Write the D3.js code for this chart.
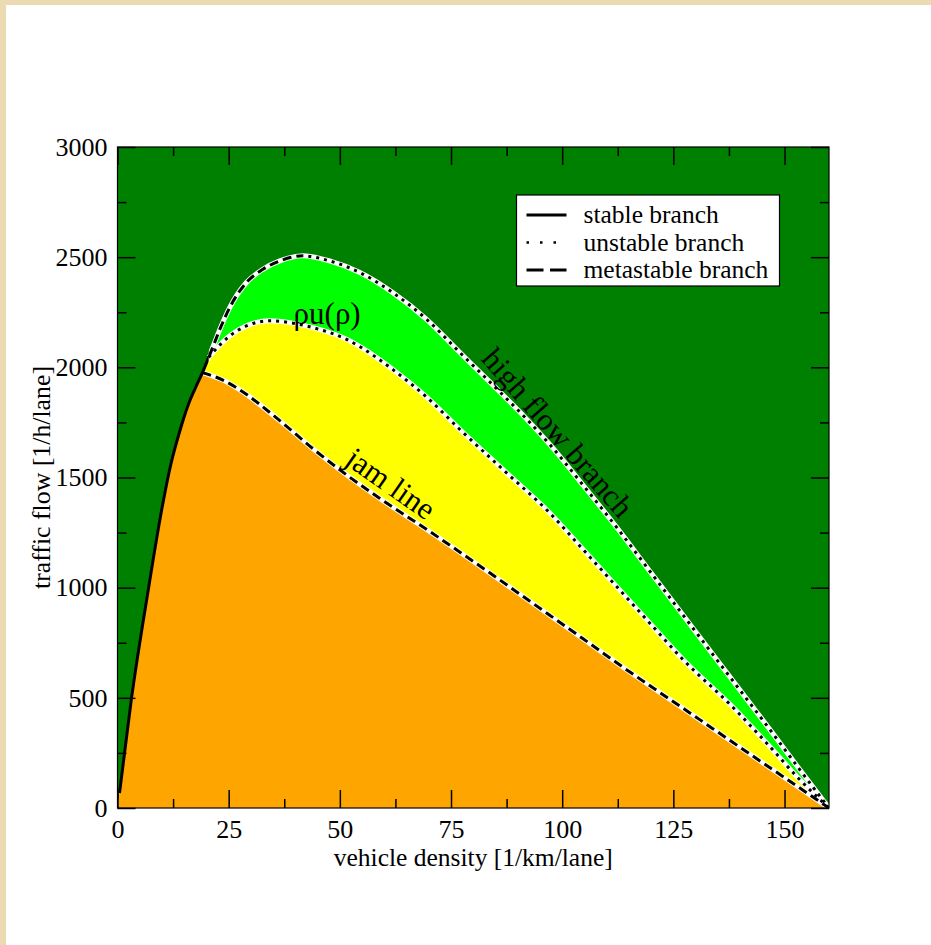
<!DOCTYPE html>
<html>
<head>
<meta charset="utf-8">
<script src="https://cdn.jsdelivr.net/npm/d3@7"></script>
<style>
  html, body { margin: 0; padding: 0; background: #ecdab3; }
  svg { display: block; }
  text { font-family: "Liberation Serif", "Times New Roman", serif; fill: #000; }
</style>
</head>
<body>
<svg id="chart" width="931" height="945"></svg>
<script>
// ---------------- data (density [1/km/lane], flow [1/h/lane]) ----------------
const stableBranch = [[0.45,68],[3.1,491],[7.0,1000],[10.0,1360],[12.0,1560],[14.0,1710],[16.0,1835],[17.5,1905],[19.1,1976],[20.5,2045]];
const metastableBranch = [[20.5,2045],[21.4,2090],[23.0,2172],[25.2,2270],[29.0,2385],[32.7,2445],[36.5,2483],[41.7,2506]];
const highFlowBranch = [[41.7,2506],[47.7,2483],[54.5,2430],[61.9,2339],[69.5,2218],[77.0,2067],[84.5,1918],[92.0,1765],[97.2,1650],[104.7,1465],[112.2,1275],[119.7,1075],[127.2,875],[134.7,675],[142.2,476],[146.0,375],[149.7,275],[153.5,172],[160,0]];
const rhoU = [[20.5,2045],[21.4,2066],[25.2,2142],[29.0,2188],[34.2,2211],[38.7,2203],[44.0,2180],[51.5,2127],[58.2,2045],[61.9,1990],[69.5,1865],[77.0,1718],[87.0,1530],[97.2,1339],[104.7,1173],[112.2,1006],[119.7,839],[127.2,673],[138.0,465],[146.0,294],[153.5,127],[160,0]];
const jamLine = [[19.1,1976],[23.7,1942],[27.1,1903],[36.5,1758],[44.0,1630],[51.5,1512],[59.0,1405],[70.2,1255],[97.2,875],[104.7,768],[112.2,660],[131.0,400],[138.5,296],[149.7,142],[160,0]];

const xMajorTicks = [0,25,50,75,100,125,150];
const xMinorTicks = [12.5,37.5,62.5,87.5,112.5,137.5];
const yMajorTicks = [0,500,1000,1500,2000,2500,3000];
const yMinorTicks = [250,750,1250,1750,2250,2750];

const legendLabels = ["stable branch","unstable branch","metastable branch"];
const annotations = [
  {text:"ρu(ρ)", at:[39.6,2195], angle:0},
  {text:"jam line", at:[50.8,1565], angle:35},
  {text:"high flow branch", at:[81.6,2035], angle:49}
];
const xTitle = "vehicle density [1/km/lane]";
const yTitle = "traffic flow [1/h/lane]";

// ---------------- layout ----------------
const W = 931, H = 945;
const plot = {left:117.5, right:829, top:147, bottom:808};
const svg = d3.select("#chart");

const x = d3.scaleLinear().domain([0,160]).range([plot.left, plot.right]);
const y = d3.scaleLinear().domain([0,3000]).range([plot.bottom, plot.top]);

// page: parchment border + white sheet
svg.append("rect").attr("width",W).attr("height",H).attr("fill","#ecdab3");
svg.append("rect").attr("x",6).attr("y",5).attr("width",W-6).attr("height",H-5).attr("fill","#ffffff");

const defs = svg.append("defs");
function clipRect(id, x0, x1) {
  defs.append("clipPath").attr("id", id).append("rect")
    .attr("x", x0).attr("y", plot.top).attr("width", Math.max(0, x1 - x0)).attr("height", plot.bottom - plot.top);
}
const xJamStart = x(jamLine[0][0]);
const xMetaStart = x(metastableBranch[0][0]);
const xHighStart = x(highFlowBranch[0][0]);
clipRect("plotclip", plot.left, plot.right);
clipRect("clipOrangeLeft", plot.left, xJamStart + 1);
clipRect("clipYellowLeft", plot.left, xMetaStart + 1);
clipRect("clipStable", plot.left, xMetaStart);
clipRect("clipMeta", xMetaStart, xHighStart);
clipRect("clipHigh", xHighStart, plot.right);
clipRect("clipMetaHigh", xMetaStart, plot.right);

const g = svg.append("g").attr("clip-path","url(#plotclip)");

// background region
g.append("rect").attr("x",plot.left).attr("y",plot.top)
  .attr("width",plot.right-plot.left).attr("height",plot.bottom-plot.top)
  .attr("fill","#008000");

const areaUnder = d3.area().x(d=>x(d[0])).y0(y(0)).y1(d=>y(d[1])).curve(d3.curveMonotoneX);
const lineGen = d3.line().x(d=>x(d[0])).y(d=>y(d[1])).curve(d3.curveMonotoneX);

// full upper curve = stable + metastable + high flow
const upperCurve = stableBranch.concat(metastableBranch.slice(1), highFlowBranch.slice(1));
const upperArea = areaUnder([[0,0]].concat(upperCurve));

// light green: under whole upper curve
g.append("path").attr("d", upperArea).attr("fill","#00ff00");
// yellow: under upper curve left of the branch split, and under rho u(rho)
g.append("path").attr("d", upperArea).attr("fill","#ffff00").attr("clip-path","url(#clipYellowLeft)");
g.append("path").attr("d", areaUnder(rhoU)).attr("fill","#ffff00");
// orange: under stable branch left of the jam line, and under the jam line
g.append("path").attr("d", upperArea).attr("fill","#ffa500").attr("clip-path","url(#clipOrangeLeft)");
g.append("path").attr("d", areaUnder(jamLine)).attr("fill","#ffa500");

// white underlays
const upperLine = lineGen(upperCurve);
g.append("path").attr("d", upperLine).attr("fill","none").attr("stroke","#fff")
  .attr("stroke-width",5).attr("clip-path","url(#clipMetaHigh)");
g.append("path").attr("d", lineGen(rhoU)).attr("fill","none").attr("stroke","#fff").attr("stroke-width",5);
g.append("path").attr("d", lineGen(jamLine)).attr("fill","none").attr("stroke","#fff").attr("stroke-width",5);

// black styled lines
function blackLine(d, dash, clipId) {
  const p = g.append("path").attr("d", d).attr("fill","none")
    .attr("stroke","#000").attr("stroke-width",3).attr("stroke-linecap","butt");
  if (dash) p.attr("stroke-dasharray", dash);
  if (clipId) p.attr("clip-path", `url(#${clipId})`);
}
blackLine(lineGen(rhoU), "3,5");
blackLine(lineGen(jamLine), "9,5");
blackLine(upperLine, null, "clipStable");
blackLine(upperLine, "9,5", "clipMeta");
blackLine(upperLine, "3,5", "clipHigh");

// axes (ticks pointing inward)
const axesG = svg.append("g");
function addAxis(axis, tx, ty, showLabels) {
  const a = axesG.append("g").attr("transform",`translate(${tx},${ty})`).call(axis);
  a.select(".domain").remove();
  a.selectAll(".tick line").attr("stroke","#000").attr("stroke-width",1.5);
  a.selectAll("text").style("font-family","'Liberation Serif', serif").style("font-size","26px").attr("fill","#000");
  if (!showLabels) a.selectAll("text").remove();
  return a;
}
const MAJ = 18, MIN = 9;
addAxis(d3.axisBottom(x).tickValues(xMajorTicks).tickSize(-MAJ).tickPadding(12).tickFormat(d3.format("d")), 0, plot.bottom, true);
addAxis(d3.axisBottom(x).tickValues(xMinorTicks).tickSize(-MIN), 0, plot.bottom, false);
addAxis(d3.axisTop(x).tickValues(xMajorTicks).tickSize(-MAJ), 0, plot.top, false);
addAxis(d3.axisTop(x).tickValues(xMinorTicks).tickSize(-MIN), 0, plot.top, false);
addAxis(d3.axisLeft(y).tickValues(yMajorTicks).tickSize(-MAJ).tickPadding(10).tickFormat(d3.format("d")), plot.left, 0, true);
addAxis(d3.axisLeft(y).tickValues(yMinorTicks).tickSize(-MIN), plot.left, 0, false);
addAxis(d3.axisRight(y).tickValues(yMajorTicks).tickSize(-MAJ), plot.right, 0, false);
addAxis(d3.axisRight(y).tickValues(yMinorTicks).tickSize(-MIN), plot.right, 0, false);

// frame
svg.append("rect").attr("x",plot.left).attr("y",plot.top)
  .attr("width",plot.right-plot.left).attr("height",plot.bottom-plot.top)
  .attr("fill","none").attr("stroke","#000").attr("stroke-width",1.2);

// axis titles
svg.append("text").attr("x",(plot.left+plot.right)/2).attr("y",866)
  .attr("text-anchor","middle").style("font-size","25.5px").text(xTitle);
svg.append("text").attr("transform",`translate(50,${(plot.top+plot.bottom)/2}) rotate(-90)`)
  .attr("text-anchor","middle").style("font-size","25.8px").text(yTitle);

// annotations
annotations.forEach(a => {
  svg.append("text")
    .attr("transform",`translate(${x(a.at[0])},${y(a.at[1])}) rotate(${a.angle})`)
    .style("font-size","31px").text(a.text);
});

// legend
const lg = svg.append("g").attr("transform","translate(516.5,195)");
lg.append("rect").attr("width",263).attr("height",91).attr("fill","#fff")
  .attr("stroke","#000").attr("stroke-width",1.2);
const legendDash = [null, "2.5,11", "17,6.5"];
legendLabels.forEach((lab,i) => {
  const yy = 20 + i*27.5;
  const ln = lg.append("line").attr("x1",10).attr("x2",50).attr("y1",yy).attr("y2",yy)
    .attr("stroke","#000").attr("stroke-width", i===1 ? 2.5 : 3);
  if (legendDash[i]) ln.attr("stroke-dasharray", legendDash[i]);
  lg.append("text").attr("x",67).attr("y",yy).attr("dy","0.33em")
    .style("font-size","25.5px").text(lab);
});
</script>
</body>
</html>
